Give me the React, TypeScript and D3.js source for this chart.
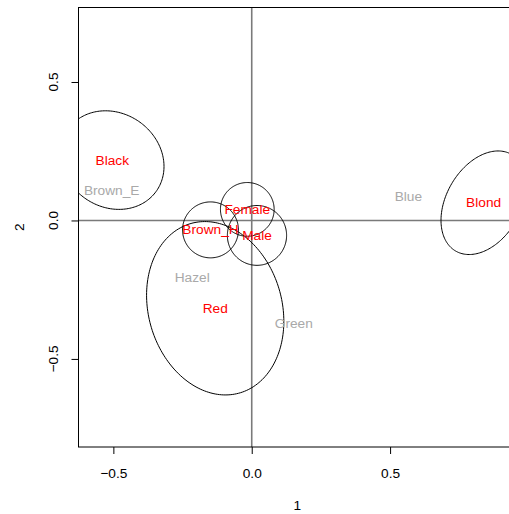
import React, { useEffect, useRef } from "react";
import * as d3 from "d3";

// Row categories (hair colour and sex) with confidence ellipses
const rowNames = ["Black", "Brown_H", "Red", "Blond", "Female", "Male"];
const rowDim1 = [-0.504, -0.149, -0.132, 0.838, -0.016, 0.019];
const rowDim2 = [0.218, -0.034, -0.317, 0.064, 0.040, -0.054];
// ellipse half-extents along each dimension and their correlation
const rowSd1 = [0.187, 0.101, 0.248, 0.154, 0.097, 0.107];
const rowSd2 = [0.178, 0.101, 0.313, 0.187, 0.097, 0.108];
const rowCorr = [-0.13, 0, -0.15, 0.34, 0, 0];

// Column categories (eye colour)
const colNames = ["Brown_E", "Blue", "Hazel", "Green"];
const colDim1 = [-0.506, 0.566, -0.215, 0.152];
const colDim2 = [0.110, 0.088, -0.205, -0.371];

const xTicks = [-0.5, 0, 0.5];
const yTicks = [-0.5, 0, 0.5];
const xDomain = [-0.626, 0.955];
const yDomain = [-0.818, 0.769];

const W = 509;
const H = 514;
const FONT = "'Liberation Sans', Arial, Helvetica, sans-serif";
const FS = 13.7;

export default function App() {
  const ref = useRef<SVGSVGElement>(null);

  useEffect(() => {
    document.body.style.margin = "0";
    const svg = d3.select(ref.current);
    svg.selectAll("*").remove();

    const left = 78.5, right = 516, top = 7.5, bottom = 447;
    const x = d3.scaleLinear().domain(xDomain).range([left, right]);
    const y = d3.scaleLinear().domain(yDomain).range([bottom, top]);

    svg.append("defs").append("clipPath").attr("id", "plotclip")
      .append("rect").attr("x", left).attr("y", top)
      .attr("width", right - left).attr("height", bottom - top);

    const plot = svg.append("g").attr("clip-path", "url(#plotclip)");

    // reference lines through the origin
    plot.append("line").attr("x1", left).attr("x2", right)
      .attr("y1", y(0)).attr("y2", y(0))
      .attr("stroke", "#7a7a7a").attr("stroke-width", 1.6);
    plot.append("line").attr("x1", x(0)).attr("x2", x(0))
      .attr("y1", top).attr("y2", bottom)
      .attr("stroke", "#7a7a7a").attr("stroke-width", 1.6);

    // confidence ellipses
    const line = d3.line<[number, number]>().x(d => x(d[0])).y(d => y(d[1]));
    rowNames.forEach((_, i) => {
      const r = rowCorr[i];
      const q = Math.sqrt(1 - r * r);
      const pts: [number, number][] = d3.range(0, 201).map(k => {
        const t = (k / 200) * 2 * Math.PI;
        return [
          rowDim1[i] + rowSd1[i] * Math.cos(t),
          rowDim2[i] + rowSd2[i] * (r * Math.cos(t) + q * Math.sin(t)),
        ];
      });
      plot.append("path").attr("d", line(pts) as string)
        .attr("fill", "none").attr("stroke", "#000").attr("stroke-width", 1);
    });

    // labels
    colNames.forEach((n, i) => {
      plot.append("text").attr("x", x(colDim1[i])).attr("y", y(colDim2[i]))
        .attr("text-anchor", "middle").attr("dominant-baseline", "central")
        .attr("font-family", FONT).attr("font-size", FS)
        .attr("fill", "#a9a9a9").text(n);
    });
    rowNames.forEach((n, i) => {
      plot.append("text").attr("x", x(rowDim1[i])).attr("y", y(rowDim2[i]))
        .attr("text-anchor", "middle").attr("dominant-baseline", "central")
        .attr("font-family", FONT).attr("font-size", FS)
        .attr("fill", "#ff0000").text(n);
    });

    // box
    svg.append("rect").attr("x", left).attr("y", top)
      .attr("width", right - left).attr("height", bottom - top)
      .attr("fill", "none").attr("stroke", "#000").attr("stroke-width", 1);

    const fmt = (v: number) => d3.format(".1f")(v);

    // axes
    const ax = svg.append("g").attr("transform", `translate(0,${bottom})`)
      .call(d3.axisBottom(x).tickValues(xTicks).tickSize(7).tickPadding(14).tickFormat(fmt as any));
    ax.select(".domain").remove();
    ax.selectAll("text").attr("font-family", FONT).attr("font-size", FS).attr("fill", "#000");

    const ay = svg.append("g").attr("transform", `translate(${left},0)`)
      .call(d3.axisLeft(y).tickValues(yTicks).tickSize(7).tickFormat(fmt as any));
    ay.select(".domain").remove();
    ay.selectAll("text").remove();
    yTicks.forEach(v => {
      svg.append("text")
        .attr("transform", `translate(53,${y(v)}) rotate(-90)`)
        .attr("text-anchor", "middle").attr("dominant-baseline", "central")
        .attr("font-family", FONT).attr("font-size", FS).attr("fill", "#000")
        .text(fmt(v));
    });

    // axis titles
    svg.append("text").attr("x", (left + right) / 2).attr("y", 505)
      .attr("text-anchor", "middle").attr("dominant-baseline", "central")
      .attr("font-family", FONT).attr("font-size", FS).text("1");
    svg.append("text")
      .attr("transform", `translate(19,${(top + bottom) / 2}) rotate(-90)`)
      .attr("text-anchor", "middle").attr("dominant-baseline", "central")
      .attr("font-family", FONT).attr("font-size", FS).text("2");
  }, []);

  return <svg ref={ref} width={W} height={H} style={{ display: "block" }} />;
}
